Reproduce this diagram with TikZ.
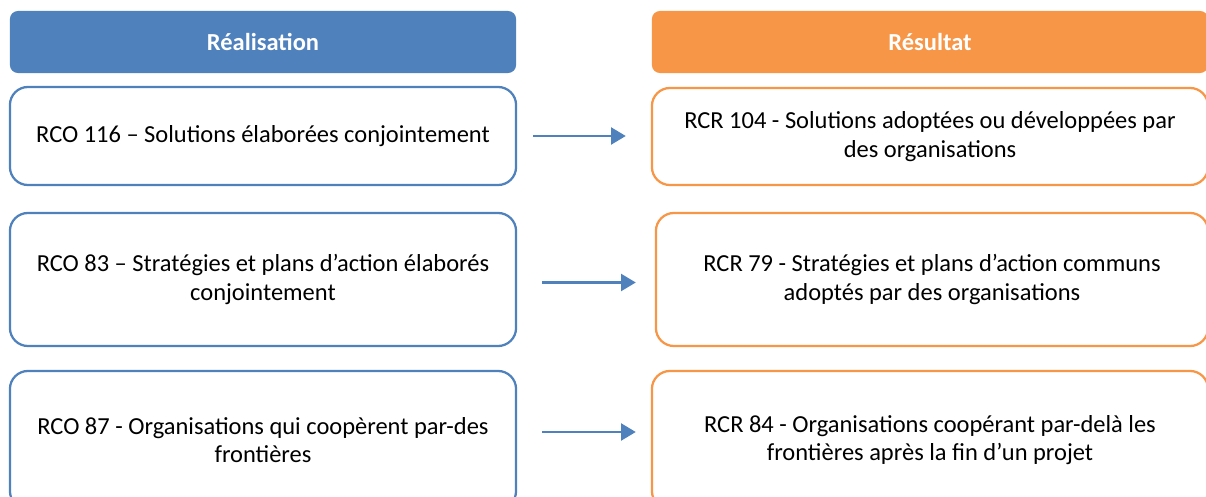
\documentclass[tikz,border=0pt]{standalone}
\usepackage{fontspec}
\setmainfont{Carlito}
\usepackage{tikz}
\usetikzlibrary{arrows.meta}

\definecolor{realblue}{HTML}{4F81BD}
\definecolor{resorange}{HTML}{F79646}

\begin{document}
\begin{tikzpicture}[x=0.025cm, y=-0.025cm,
    every node/.style={font=\fontsize{17.4}{20.2}\selectfont, align=center, text=black},
    header/.style={rounded corners=0.2cm, minimum height=1.55cm, inner sep=0pt,
        text=white, font=\fontsize{17.4}{20.2}\selectfont\bfseries},
    outbox/.style={draw=realblue, line width=1.6pt, rounded corners=0.45cm,
        minimum width=12.65cm, inner sep=0pt},
    resbox/.style={draw=resorange, line width=1.6pt, rounded corners=0.45cm,
        minimum width=13.9cm, inner sep=0pt},
    link/.style={-{Triangle[length=10.5pt, width=12pt]}, line width=1.8pt, realblue}]

\useasboundingbox (0,0) rectangle (1206,497);
\clip (0,0) rectangle (1206,497);

% ===================== HEADERS =====================
\node[header, fill=realblue, minimum width=12.65cm] (hdrL) at (263,42) {Réalisation};
\node[header, fill=resorange, minimum width=13.9cm] (hdrR) at (930,42) {Résultat};

% ===================== REALISATION (LEFT) =====================
\node[outbox, minimum height=2.45cm] (rco1) at (263,136)
    {RCO 116 – Solutions élaborées conjointement};
\node[outbox, minimum height=3.325cm] (rco2) at (263,279.5)
    {RCO 83 – Stratégies et plans d’action élaborés\\conjointement};
\node[outbox, minimum height=3.45cm] (rco3) at (263,440)
    {RCO 87 - Organisations qui coopèrent par-des\\frontières};

% ===================== RESULTAT (RIGHT) =====================
\node[resbox, minimum height=2.425cm] (rcr1) at (930,136.5)
    {RCR 104 - Solutions adoptées ou développées par\\des organisations};
\node[resbox, minimum height=3.325cm, minimum width=13.8cm] (rcr2) at (932,279.5)
    {RCR 79 - Stratégies et plans d’action communs\\adoptés par des organisations};
\node[resbox, minimum height=3.45cm] (rcr3) at (930,440)
    {RCR 84 - Organisations coopérant par-delà les\\frontières après la fin d’un projet};

% ===================== LINKS =====================
\draw[link, shorten <=0.4cm, shorten >=0.625cm] (rco1.east) -- (rcr1.west |- rco1.east);
\draw[link, shorten <=0.625cm, shorten >=0.475cm] ([yshift=-0.075cm]rco2.east) -- ([yshift=-0.075cm]rcr2.west);
\draw[link, shorten <=0.625cm, shorten >=0.375cm] ([yshift=0.2cm]rco3.east) -- ([yshift=0.2cm]rcr3.west);

\end{tikzpicture}
\end{document}
